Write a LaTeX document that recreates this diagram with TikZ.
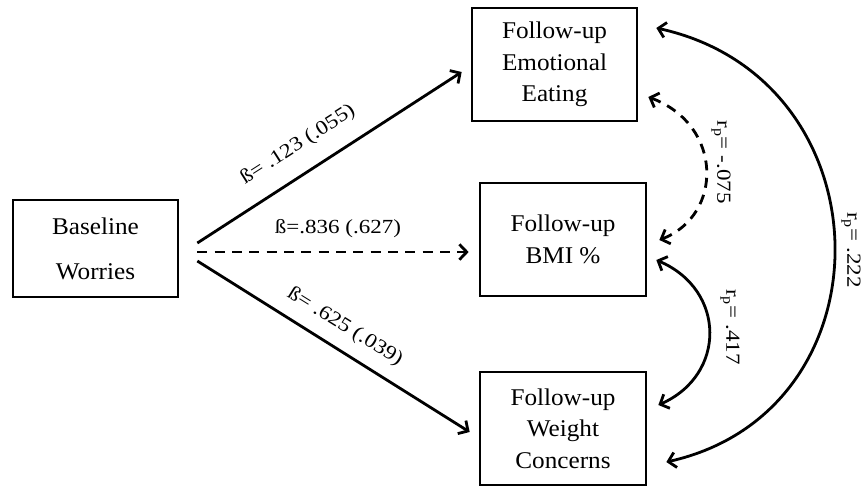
\documentclass[tikz,border=0pt]{standalone}
\usepackage{fontspec}
\setmainfont{Liberation Serif}
\newfontfamily\boxfont{Liberation Serif}[FakeStretch=1.05]
\newfontfamily\labfont{Liberation Serif}[FakeStretch=1.15]
\usetikzlibrary{arrows.meta,calc}
\begin{document}
\begin{tikzpicture}[x=0.75pt,y=-0.75pt,
  >={Straight Barb[length=5.5pt,width=11.5pt]},
  box/.style={draw, line width=2pt, align=center, inner sep=0pt,
    font=\boxfont\fontsize{18}{23.6}\selectfont},
  arr/.style={line width=2.1pt, ->},
  dsh/.style={dash pattern=on 7.5pt off 5.5pt},
  lab/.style={font=\labfont\fontsize{15}{18}\selectfont, inner sep=0pt}]
\useasboundingbox (0,0) rectangle (866,487);

\node[box, minimum width=123.75pt, minimum height=72.75pt] (bw) at (95.5,248.5) {Baseline\\[10pt]Worries};
\node[box, minimum width=123.75pt, minimum height=84.75pt] (ee) at (554.5,64.5) {Follow-up\\Emotional\\Eating};
\node[box, minimum width=124.5pt, minimum height=84.75pt] (bmi) at (563,239.5) {Follow-up\\BMI \%};
\node[box, minimum width=124.5pt, minimum height=84.75pt] (wc) at (563,428.5) {Follow-up\\Weight\\Concerns};

\draw[arr] ($(bw.east)+(18,-5.5)$) -- ($(ee.west)+(-9,7.5)$);
\draw[arr, dsh] ($(bw.east)+(18,3.5)$) -- ($(bmi.west)+(-10,12.5)$);
\draw[arr] ($(bw.east)+(18,12.5)$) -- ($(wc.west)+(-9,3.5)$);

\draw[line width=2.1pt, <->, dsh] ($(ee.east)+(10,32.5)$) .. controls +(75,28) and +(64,-25) .. ($(bmi.east)+(12,0.5)$);
\draw[line width=2.1pt, <->] ($(bmi.east)+(9,20.5)$) .. controls +(70,30) and +(68,-30) .. ($(wc.east)+(11,-23.5)$);
\draw[line width=2.1pt, <->] ($(ee.east)+(18,-36.5)$) .. controls +(233,51) and +(228,-51) .. ($(wc.east)+(19,33.5)$);

\node[lab, rotate=32.6] (l1) at (298,145) {ß= .123 (.055)};
\node[lab] (l2) at (338,229) {ß=.836 (.627)};
\node[lab, rotate=-31.9] (l3) at (345,327) {ß= .625 (.039)};
\node[lab, rotate=-90] (l4) at (721,162) {r\textsubscript{p}= -.075};
\node[lab, rotate=-90] (l5) at (730,327) {r\textsubscript{p}= .417};
\node[lab, rotate=-90] (l6) at (851,250) {r\textsubscript{p}= .222};
\end{tikzpicture}
\end{document}
